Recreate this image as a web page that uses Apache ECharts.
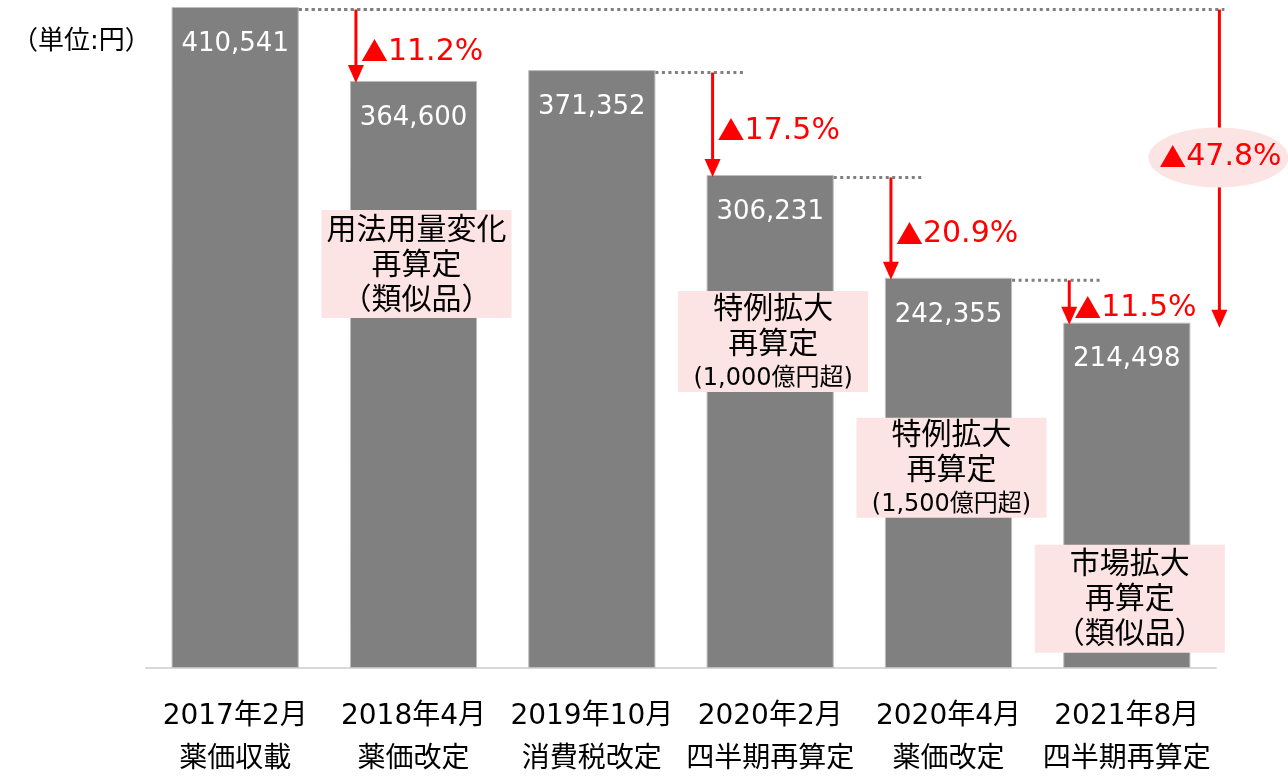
<!DOCTYPE html>
<html>
<head>
<meta charset="utf-8">
<script src="https://cdn.jsdelivr.net/npm/echarts@6/dist/echarts.min.js"></script>
<style>
  html, body { margin: 0; padding: 0; background: #fff; }
  #chart { width: 1288px; height: 778px; }
</style>
</head>
<body>
<div id="chart"></div>
<script>
// data
const dates = ['2017年2月', '2018年4月', '2019年10月', '2020年2月', '2020年4月', '2021年8月'];
const events = ['薬価収載', '薬価改定', '消費税改定', '四半期再算定', '薬価改定', '四半期再算定'];
const prices = [410541, 364600, 371352, 306231, 242355, 214498];

const dropFrom = [0, 2, 3, 4];
const dropTo = [1, 3, 4, 5];
const dropLabels = ['11.2%', '17.5%', '20.9%', '11.5%'];
const totalFrom = 0;
const totalTo = 5;
const totalLabel = '47.8%';

const noteBars = [1, 3, 4, 5];
const noteLines = [['用法用量変化', '再算定'], ['特例拡大', '再算定'], ['特例拡大', '再算定'], ['市場拡大', '再算定']];
const noteSub = ['（類似品）', '(1,000億円超)', '(1,500億円超)', '（類似品）'];

// layout
const FONT = "'DejaVu Sans', 'Noto Sans CJK JP', sans-serif";
const CJK = "'Noto Sans CJK JP', sans-serif";
const RED = '#ff0000';
const PINK = '#fde4e4';
const BAR_RATIO = 0.713;
const NOTE_TOP = [129, 116, 140, 222];
const NOTE_H = [108, 101, 100, 108];

const steps = dropFrom.map((f, i) => ({ from: f, to: dropTo[i], text: dropLabels[i], total: false }));
steps.push({ from: totalFrom, to: totalTo, text: totalLabel, total: true });

const pctRich = {
  t: { fontSize: 27, fontFamily: CJK, fill: RED },
  n: { fontSize: 30, fontFamily: FONT, fill: RED }
};

const chart = echarts.init(document.getElementById('chart'));

function renderStep(params, api) {
  const s = steps[params.dataIndex];
  const half = api.size([1, 0])[0] * BAR_RATIO / 2;
  const p0 = api.coord([s.from, prices[s.from]]);
  const p1 = api.coord([s.to, prices[s.to]]);
  const guideY = p0[1] + 2.5;
  const x = s.total ? p1[0] + half + 29 : p1[0] - half + 6;
  const guideEnd = s.total ? x + 5 : x + 32;
  const tipY = p1[1] + (s.total ? 5 : 2);
  const children = [
    {
      type: 'line',
      shape: { x1: p0[0] + half, y1: guideY, x2: guideEnd, y2: guideY },
      style: { stroke: '#7f7f7f', lineWidth: 3, lineDash: [3, 3.5] }
    },
    {
      type: 'line',
      shape: { x1: x, y1: guideY, x2: x, y2: tipY - 14 },
      style: { stroke: RED, lineWidth: 3 }
    },
    {
      type: 'polygon',
      shape: { points: [[x - 8, tipY - 18], [x + 8, tipY - 18], [x, tipY]] },
      style: { fill: RED }
    }
  ];
  const midY = (guideY + tipY) / 2;
  const label = '{t|▲}{n|' + s.text + '}';
  if (s.total) {
    children.push({
      type: 'ellipse',
      shape: { cx: x - 1, cy: midY - 11, rx: 70, ry: 30 },
      style: { fill: PINK }
    });
    children.push({
      type: 'text', x: x + 1, y: midY - 11,
      style: { text: label, rich: pctRich, align: 'center', verticalAlign: 'middle' }
    });
  } else {
    children.push({
      type: 'text', x: x + 5, y: midY + 6,
      style: { text: label, rich: pctRich, align: 'left', verticalAlign: 'middle' }
    });
  }
  return { type: 'group', children };
}

function renderNote(params, api) {
  const i = params.dataIndex;
  const b = noteBars[i];
  const c = api.coord([b, prices[b]]);
  const cx = c[0] + 3;
  const top = c[1] + NOTE_TOP[i];
  const h = NOTE_H[i];
  const small = noteSub[i].startsWith('(');
  const text = noteLines[i].map(t => '{m|' + t + '}').join('\n') + '\n{' + (small ? 's' : 'm') + '|' + noteSub[i] + '}';
  return {
    type: 'group',
    children: [
      { type: 'rect', shape: { x: cx - 95, y: top, width: 190, height: h }, style: { fill: PINK } },
      {
        type: 'text', x: cx, y: top + h / 2 + 2,
        style: {
          text, align: 'center', verticalAlign: 'middle', fill: '#000',
          rich: {
            m: { fontSize: 30, lineHeight: 35, fontFamily: FONT, fill: '#000', align: 'center' },
            s: { fontSize: 24, lineHeight: 32, fontFamily: FONT, fill: '#000', align: 'center' }
          }
        }
      }
    ]
  };
}

chart.setOption({
  animation: false,
  title: {
    text: '（単位:円）',
    left: 12, top: 29, padding: 0,
    textStyle: { fontSize: 26, fontWeight: 'normal', color: '#000', fontFamily: FONT }
  },
  grid: { left: 146, right: 72, top: 7, bottom: 110, outerBoundsMode: 'none', containLabel: false },
  xAxis: {
    type: 'category',
    data: dates.map((d, i) => d + '\n' + events[i]),
    axisLine: { lineStyle: { color: '#d9d9d9', width: 2 } },
    axisTick: { show: false },
    axisLabel: { color: '#000', fontSize: 28, fontFamily: FONT, lineHeight: 43, margin: 27, interval: 0 }
  },
  yAxis: { type: 'value', min: 0, max: 410541, show: false, splitLine: { show: false } },
  series: [
    {
      type: 'bar',
      data: prices,
      barWidth: (BAR_RATIO * 100) + '%',
      itemStyle: { color: '#808080', borderColor: '#bdbdbd', borderWidth: 1 },
      label: {
        show: true, position: 'insideTop', distance: 24,
        color: '#fff', fontSize: 26, fontFamily: FONT,
        formatter: p => p.value.toLocaleString('en-US')
      }
    },
    {
      type: 'custom',
      renderItem: renderStep,
      data: steps.map(s => [s.to, prices[s.to]]),
      clip: false, z: 5, silent: true
    },
    {
      type: 'custom',
      renderItem: renderNote,
      data: noteBars.map(b => [b, prices[b]]),
      clip: false, z: 4, silent: true
    }
  ]
});
</script>
</body>
</html>
